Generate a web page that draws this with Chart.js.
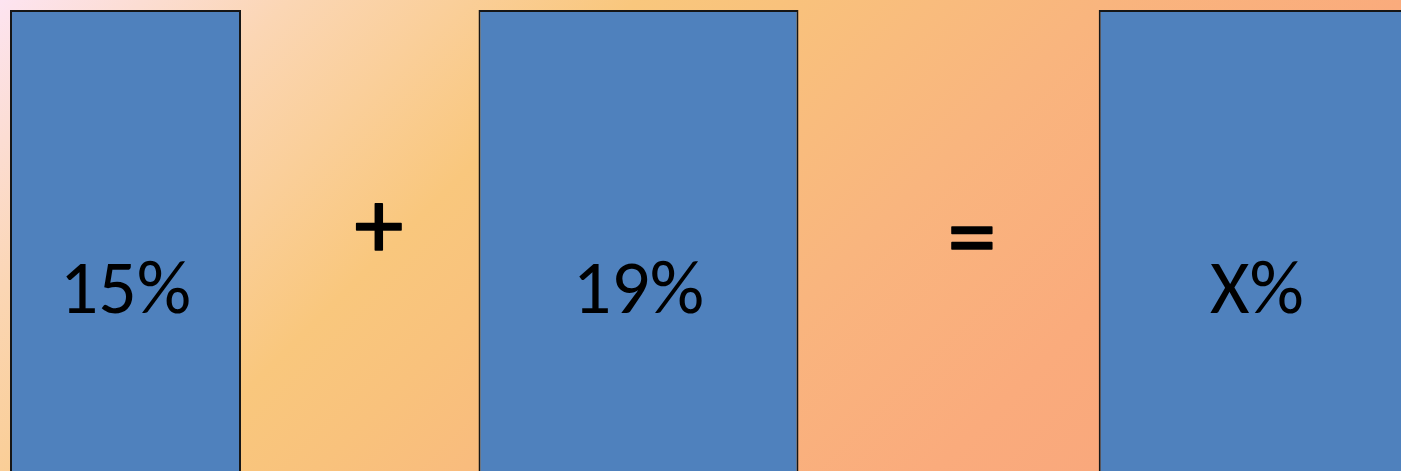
<!DOCTYPE html>
<html><head><meta charset="utf-8">
<script src="https://cdn.jsdelivr.net/npm/chart.js@4"></script>
<style>html,body{margin:0;padding:0;overflow:hidden;background:#fff;}#wrap{width:1401px;height:471px;position:relative;}</style>
</head><body><div id="wrap"><canvas id="c"></canvas></div>
<script>
// ---- data ----
const labels = ['15%', '19%', 'X%'];
const barCenters = [125.5, 638.5, 1257];
const barWidths = [231, 320, 316.6];
const barTops = [97.9, 97.9, 97.9];
const barBottoms = [-5, -5, -5];
const labelBaseline = 33.55;         // y-scale value of text baseline
const operators = ['+', '='];
const operatorX = [379, 972];        // x-scale values
const operatorY = [52.0, 49.4];      // y-scale values (glyph centres)

// ---- layout helpers ----
const sorted = barCenters.slice().sort((a, b) => a - b);
let minGap = Infinity;
for (let i = 1; i < sorted.length; i++) minGap = Math.min(minGap, sorted[i] - sorted[i - 1]);

const datasets = labels.map((lab, i) => ({
  label: lab,
  data: [{ x: barCenters[i], y: [barBottoms[i], barTops[i]] }],
  backgroundColor: '#4f81bd',
  borderColor: '#161616',
  borderWidth: 2,
  borderSkipped: false,
  grouped: false,
  categoryPercentage: 1,
  barPercentage: barWidths[i] / minGap
}));

const bgPlugin = {
  id: 'bg',
  beforeDraw(chart) {
    const { ctx, width, height } = chart;
    const g = ctx.createLinearGradient(0, 0, 936, 936);
    g.addColorStop(0.00, '#fde4f1');
    g.addColorStop(0.155, '#fbd6b4');
    g.addColorStop(0.34, '#f9c77d');
    g.addColorStop(0.42, '#f9c27c');
    g.addColorStop(0.59, '#f9b57e');
    g.addColorStop(0.75, '#faab7c');
    g.addColorStop(0.84, '#f9a87c');
    g.addColorStop(1.00, '#f8a47a');
    ctx.save();
    ctx.fillStyle = g;
    ctx.fillRect(0, 0, width, height);
    ctx.restore();
  }
};

const textPlugin = {
  id: 'texts',
  afterDatasetsDraw(chart) {
    const { ctx } = chart;
    const xs = chart.scales.x, ys = chart.scales.y;
    ctx.save();
    ctx.fillStyle = '#000';
    ctx.font = '76px Carlito, Roboto, sans-serif';
    ctx.textAlign = 'center';
    ctx.textBaseline = 'alphabetic';
    labels.forEach((lab, i) => {
      const el = chart.getDatasetMeta(i).data[0];
      ctx.fillText(lab, el.x, ys.getPixelForValue(labelBaseline));
    });
    ctx.font = '98px Carlito, Roboto, sans-serif';
    ctx.textAlign = 'left';
    ctx.strokeStyle = '#000';
    ctx.lineWidth = 1.6;
    ctx.lineJoin = 'round';
    operators.forEach((op, i) => {
      const m = ctx.measureText(op);
      const cx = xs.getPixelForValue(operatorX[i]);
      const cy = ys.getPixelForValue(operatorY[i]);
      const x = cx - (m.actualBoundingBoxRight - m.actualBoundingBoxLeft) / 2;
      const y = cy - (m.actualBoundingBoxDescent - m.actualBoundingBoxAscent) / 2;
      ctx.fillText(op, x, y);
      ctx.strokeText(op, x, y);
    });
    ctx.restore();
  }
};

new Chart(document.getElementById('c'), {
  type: 'bar',
  data: { datasets },
  options: {
    responsive: true,
    maintainAspectRatio: false,
    animation: false,
    layout: { padding: 0 },
    plugins: { legend: { display: false }, tooltip: { enabled: false } },
    scales: {
      x: { type: 'linear', min: 0, max: 1401, offset: false, display: false, ticks: { count: 2 }, grid: { display: false } },
      y: { type: 'linear', min: 0, max: 100, display: false, grid: { display: false } }
    }
  },
  plugins: [bgPlugin, textPlugin]
});
</script></body></html>
